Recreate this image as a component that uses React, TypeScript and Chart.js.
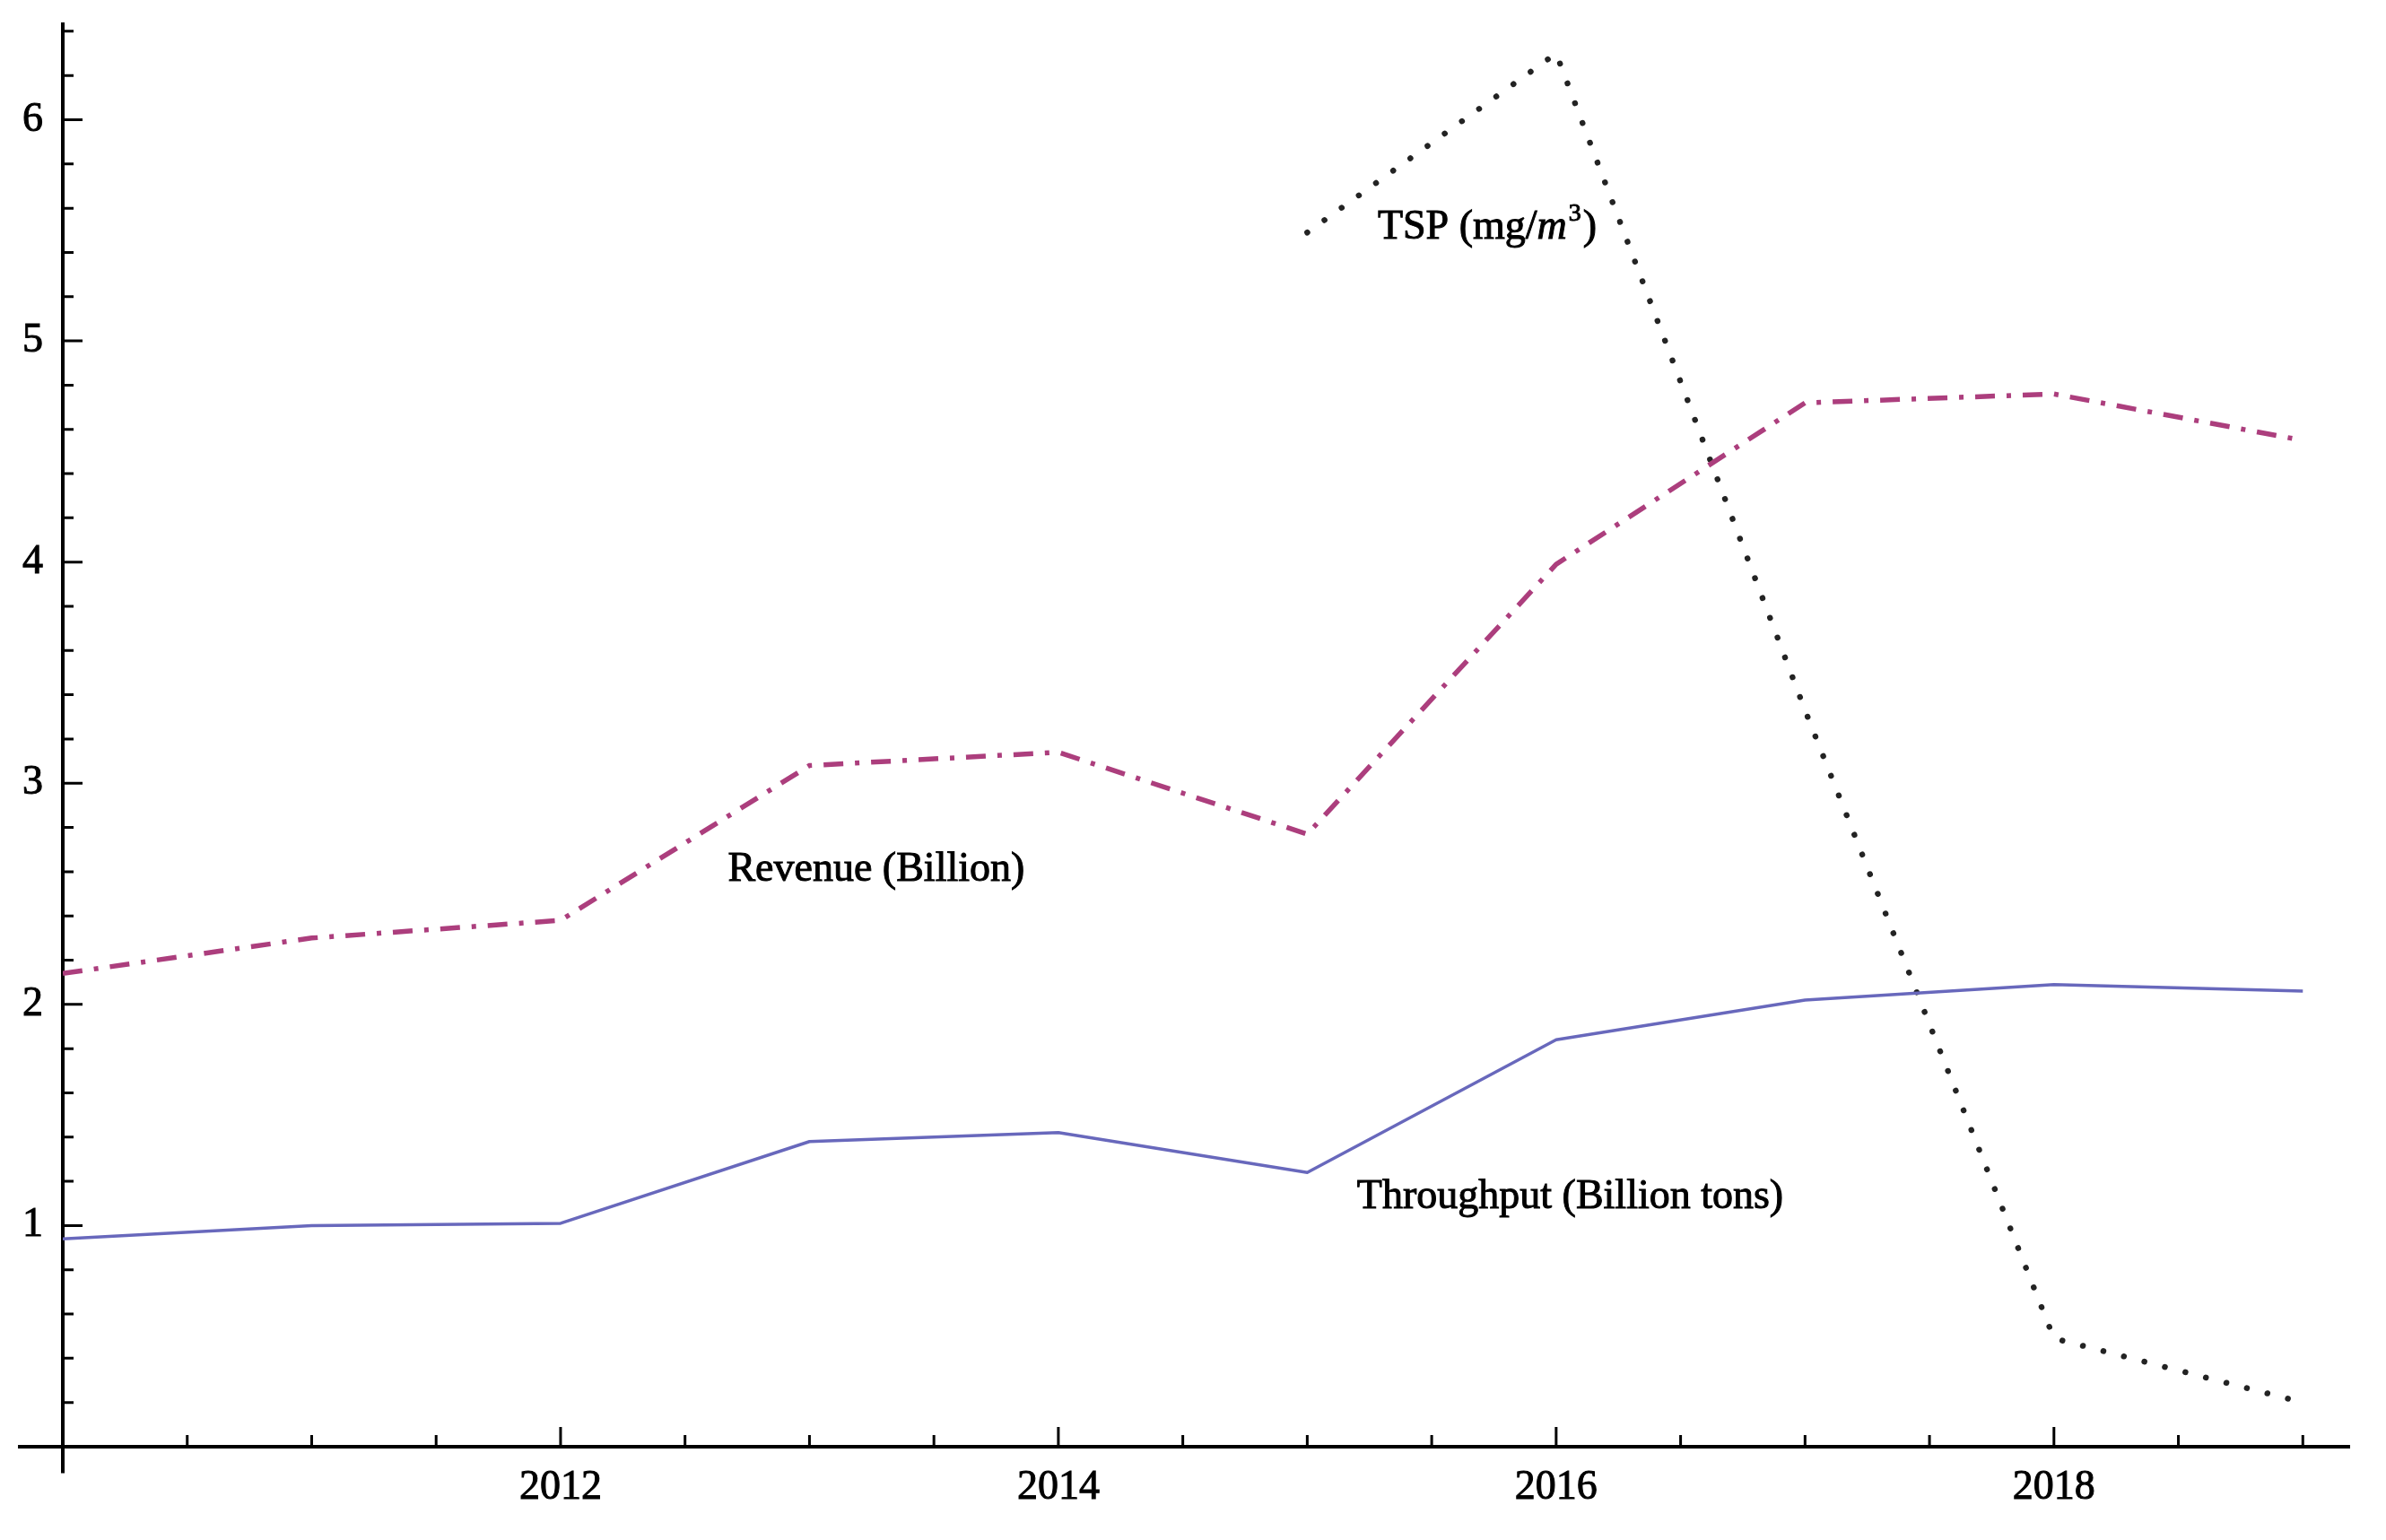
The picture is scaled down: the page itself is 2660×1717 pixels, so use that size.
import React, { useEffect, useRef } from "react";
import { Chart, registerables } from "chart.js";

Chart.register(...registerables);

// ---- data ----
const years = [2010, 2011, 2012, 2013, 2014, 2015, 2016, 2017, 2018, 2019];
const throughput = [0.94, 1.0, 1.01, 1.38, 1.42, 1.24, 1.84, 2.02, 2.09, 2.06];
const revenue = [2.14, 2.3, 2.38, 3.08, 3.14, 2.77, 3.99, 4.72, 4.76, 4.55];
const tsp = [null, null, null, null, null, 5.49, 6.3, 3.33, 0.49, 0.2];
const xTickYears = [2012, 2014, 2016, 2018];
const yTickValues = [1, 2, 3, 4, 5, 6];
const seriesNames = ["Throughput (Billion tons)", "Revenue (Billion)", "TSP (mg/m"];

// ---- axis geometry (data units) ----
const X_ORIGIN = 2010;
const Y_ORIGIN = 0;
const X_MAX = 2019.19;
const Y_MAX = 6.44;
const X_AXIS_START = 2009.82;
const Y_AXIS_START = -0.12;
const X_MINOR_STEP = 0.5;
const Y_MINOR_STEP = 0.2;

// label anchors (left, baseline) in data units
const labelAnchors = [
  { x: 2015.2, y: 1.078 },
  { x: 2012.672, y: 2.558 },
  { x: 2015.283, y: 5.464 },
];

const FONT = '"Liberation Serif", "DejaVu Serif", serif';
const FS = 46;

const toPoints = (vals: (number | null)[]) =>
  years
    .map((yr, i) => ({ x: yr, y: vals[i] }))
    .filter((p) => p.y !== null) as { x: number; y: number }[];

const axesPlugin = {
  id: "mmaAxes",
  beforeDatasetsDraw(chart: any) {
    const { ctx } = chart;
    const xs = chart.scales.x;
    const ys = chart.scales.y;
    const x0 = xs.getPixelForValue(X_ORIGIN);
    const y0 = ys.getPixelForValue(Y_ORIGIN);
    ctx.save();
    ctx.strokeStyle = "#000";
    ctx.lineWidth = 4;
    ctx.beginPath();
    ctx.moveTo(xs.getPixelForValue(X_AXIS_START), y0);
    ctx.lineTo(xs.getPixelForValue(X_MAX), y0);
    ctx.moveTo(x0, ys.getPixelForValue(Y_AXIS_START));
    ctx.lineTo(x0, ys.getPixelForValue(Y_MAX));
    ctx.stroke();

    ctx.lineWidth = 3;
    ctx.beginPath();
    for (let k = 1; ; k++) {
      const v = X_ORIGIN + k * X_MINOR_STEP;
      if (v > X_MAX + 1e-9) break;
      const major = xTickYears.some((t) => Math.abs(t - v) < 1e-6);
      const len = major ? 22 : 13;
      const px = xs.getPixelForValue(v);
      ctx.moveTo(px, y0);
      ctx.lineTo(px, y0 - len);
    }
    for (let k = 1; ; k++) {
      const v = Y_ORIGIN + k * Y_MINOR_STEP;
      if (v > Y_MAX + 1e-9) break;
      const major = yTickValues.some((t) => Math.abs(t - v) < 1e-6);
      const len = major ? 22 : 12;
      const py = ys.getPixelForValue(v);
      ctx.moveTo(x0, py);
      ctx.lineTo(x0 + len, py);
    }
    ctx.stroke();
    ctx.restore();
  },
  afterDatasetsDraw(chart: any) {
    const { ctx } = chart;
    const xs = chart.scales.x;
    const ys = chart.scales.y;
    ctx.save();
    ctx.fillStyle = "#000";
    ctx.strokeStyle = "#000";
    ctx.lineWidth = 1;
    ctx.textAlign = "left";
    ctx.textBaseline = "alphabetic";
    const normal = `${FS}px ${FONT}`;
    const put = (t: string, x: number, y: number) => {
      ctx.fillText(t, x, y);
      ctx.strokeText(t, x, y);
    };
    // Throughput, Revenue
    for (let i = 0; i < 2; i++) {
      ctx.font = normal;
      put(seriesNames[i], xs.getPixelForValue(labelAnchors[i].x), ys.getPixelForValue(labelAnchors[i].y));
    }
    // TSP (mg/m^3)
    let px = xs.getPixelForValue(labelAnchors[2].x);
    const py = ys.getPixelForValue(labelAnchors[2].y);
    ctx.font = normal;
    put(seriesNames[2].slice(0, -1), px, py);
    px += ctx.measureText(seriesNames[2].slice(0, -1)).width;
    ctx.font = `italic ${FS}px ${FONT}`;
    put("m", px, py);
    px += ctx.measureText("m").width + 2;
    ctx.font = `${Math.round(FS * 0.6)}px ${FONT}`;
    put("3", px, py - FS * 0.42);
    px += ctx.measureText("3").width + 2;
    ctx.font = normal;
    put(")", px, py);
    ctx.restore();
  },
};

export default function App() {
  const ref = useRef<HTMLCanvasElement>(null);
  useEffect(() => {
    if (!ref.current) return;
    const chart = new Chart(ref.current, {
      type: "line",
      data: {
        datasets: [
          {
            label: seriesNames[0],
            data: toPoints(throughput),
            borderColor: "rgb(104,104,188)",
            borderWidth: 3.5,
            pointRadius: 0,
            tension: 0,
            borderJoinStyle: "round",
          },
          {
            label: seriesNames[1],
            data: toPoints(revenue),
            borderColor: "rgb(172,62,125)",
            borderWidth: 5.5,
            borderDash: [22, 13, 5, 13],
            pointRadius: 0,
            tension: 0,
          },
          {
            label: seriesNames[2],
            data: toPoints(tsp),
            borderColor: "rgb(35,35,35)",
            borderWidth: 6.5,
            borderDash: [0.1, 23.5],
            borderCapStyle: "round",
            pointRadius: 0,
            tension: 0,
          },
        ],
      },
      options: {
        animation: false,
        responsive: false,
        devicePixelRatio: 1,
        layout: { padding: { left: 0, right: 40, top: 25, bottom: 0 } },
        plugins: { legend: { display: false }, tooltip: { enabled: false } },
        scales: {
          x: {
            type: "linear",
            min: X_ORIGIN,
            max: X_MAX,
            grid: { display: false, drawTicks: false },
            border: { display: false },
            ticks: {
              font: { family: FONT, size: FS },
              color: "#000",
              textStrokeColor: "#000",
              textStrokeWidth: 1,
              padding: 18,
              maxRotation: 0,
              autoSkip: false,
              callback: (v: any) => String(v),
            },
            afterBuildTicks: (s: any) => {
              s.ticks = xTickYears.map((v) => ({ value: v }));
            },
            afterFit: (s: any) => {
              s.height = 104;
              s.paddingLeft = 0;
              s.paddingRight = 0;
            },
          },
          y: {
            type: "linear",
            min: Y_ORIGIN,
            max: Y_MAX,
            grid: { display: false, drawTicks: false },
            border: { display: false },
            ticks: {
              font: { family: FONT, size: FS },
              color: "#000",
              textStrokeColor: "#000",
              textStrokeWidth: 1,
              padding: 22,
              autoSkip: false,
              callback: (v: any) => String(v),
            },
            afterBuildTicks: (s: any) => {
              s.ticks = yTickValues.map((v) => ({ value: v }));
            },
            afterFit: (s: any) => {
              s.width = 70;
              s.paddingTop = 0;
              s.paddingBottom = 0;
            },
          },
        },
      },
      plugins: [axesPlugin],
    } as any);
    return () => chart.destroy();
  }, []);
  return (
    <div style={{ position: "fixed", left: 0, top: 0, width: 2660, height: 1717, background: "#fff" }}>
      <canvas ref={ref} width={2660} height={1717} style={{ display: "block" }} />
    </div>
  );
}
